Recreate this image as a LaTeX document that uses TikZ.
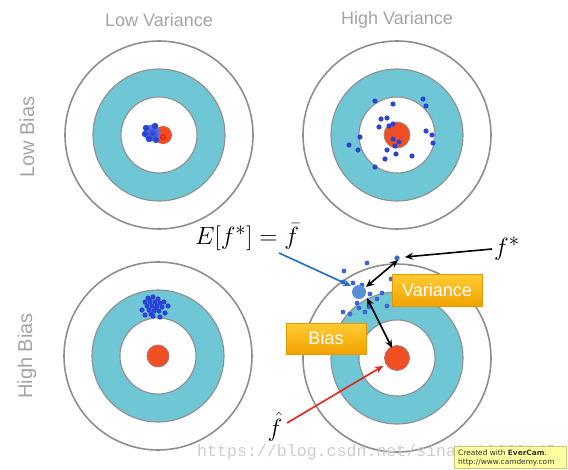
\documentclass[tikz,border=0pt]{standalone}
\usepackage{fontspec}
\setmainfont{Liberation Sans}
\newfontfamily\wmfont{Liberation Mono}
\newfontfamily\evfont{DejaVu Sans}
\usetikzlibrary{arrows.meta}
\definecolor{ringgray}{HTML}{8E8E8E}
\definecolor{cyanring}{HTML}{6FC7D5}
\definecolor{dotred}{HTML}{F04E23}
\definecolor{dotblue}{HTML}{2B44D4}
\definecolor{dotblueb}{HTML}{3F63D8}
\definecolor{meanblue}{HTML}{5A8FD8}
\definecolor{labgray}{HTML}{A4A4A4}
\definecolor{boxtop}{HTML}{FFCC33}
\definecolor{boxbot}{HTML}{F2A200}
\definecolor{boxedge}{HTML}{E39A00}
\definecolor{arrblue}{HTML}{1E6FC2}
\definecolor{arrred}{HTML}{E5231B}
\definecolor{wmgray}{HTML}{CDCDCD}
\definecolor{evbg}{HTML}{FFFFA0}
\definecolor{evedge}{HTML}{C9C77A}
\tikzset{
  outerring/.style={draw=ringgray, line width=1.6pt, fill=white},
  cyanfill/.style={fill=cyanring, draw=ringgray, line width=1.1pt},
  innerfill/.style={fill=white, draw=ringgray, line width=1.1pt},
  bullseye/.style={fill=dotred, draw=ringgray!80!dotred, line width=0.8pt},
  headlab/.style={text=labgray, font=\fontsize{18}{20}\selectfont},
  sidelab/.style={text=labgray, font=\fontsize{20}{22}\selectfont, rotate=90},
  orangebox/.style={top color=boxtop, bottom color=boxbot, draw=boxedge, line width=0.6pt,
     text=white, font=\fontsize{18}{20}\selectfont, inner sep=0pt},
  mathlab/.style={inner sep=0pt},
  blk/.style={draw=black, line width=1.6pt},
  evtext/.style={anchor=west, inner sep=0pt, font=\evfont\fontsize{7.4}{8}\selectfont, text=black!80},
}
\begin{document}
\begin{tikzpicture}[x=1pt,y=-1pt]
\useasboundingbox (0,0) rectangle (568,469);
\fill[white] (0,0) rectangle (568,469);
% centres
\coordinate (tl) at (159,135);
\coordinate (tr) at (397,135);
\coordinate (bl) at (158,356);
\coordinate (br) at (397,358);
\foreach \c in {tl,tr,bl,br}{
  \draw[outerring] (\c) circle (94pt);
  \draw[cyanfill] (\c) circle (66pt);
  \draw[innerfill] (\c) circle (38pt);
}
% top-left centre
\fill[dotred] (163,135) circle (9pt);
\shade[inner color=dotblue, outer color=dotblue!70] (152,133) circle (8.5pt);
\foreach \p in {(146,128),(149,139),(156,140),(155,126),(145,134)}
  \fill[dotblue] \p circle (3.2pt);
\draw[red, line width=0.9pt] (163,137) circle (2.3pt);
% top-right
\draw[bullseye] (tr) circle (13pt);
\foreach \p in {(375,101),(393,104),(423,99),(426,106),(381,119),(387,118),(379,127),(389,126),(393,124),
  (360,137),(349,145),(358,150),(426,131),(432,135),(433,143),(393,139),(399,142),(395,146),(387,150),
  (396,154),(412,156),(385,159),(375,167)}
  \fill[dotblue] \p circle (2.6pt);
% bottom-left
\draw[bullseye] (bl) circle (11pt);
\foreach \p in {(148,298),(153,297),(158,299),(145,302),(150,302),(155,302),(160,303),(147,306),(152,306),
  (157,306),(162,307),(168,306),(142,310),(149,310),(154,311),(159,311),(145,315),(153,316),(160,317),
  (165,313),(150,300),(156,308),(164,302),(151,314)}
  \fill[dotblue] \p circle (2.6pt);
% bottom-right
\draw[bullseye] (br) circle (12.5pt);
\foreach \p in {(367,263),(344,271),(343,282),(353,283),(362,285),(391,279),(370,294),(382,293),
  (377,299),(387,306),(343,312),(350,314),(359,308),(365,312),(357,303),(369,307)}
  \fill[dotblueb] \p circle (2.4pt);
\coordinate (fs) at (397,258);
\fill[dotblueb] (fs) circle (2.6pt);
\fill[meanblue] (359,292) circle (7pt);
\coordinate (mean) at (359,292);
% labels
\node[headlab] (lv) at (159,20) {Low Variance};
\node[headlab] (hv) at (397,20) {High Variance};
\node[sidelab] (lb) at (27,137) {Low Bias};
\node[sidelab] (hb) at (27,356) {High Bias};
% boxes
\node[orangebox, minimum width=90pt, minimum height=32pt] (var) at (437,290) {Variance};
\node[orangebox, minimum width=80pt, minimum height=31pt] (bias) at (326,338.5) {Bias};
% math labels
\node[mathlab] (ef) at (247,237) {\fontsize{28}{30}\selectfont $E[f^*]=\bar{f}$};
\node[mathlab] (fstar) at (507,249) {\fontsize{28}{30}\selectfont $f^*$};
\node[mathlab] (fhat) at (275,427) {\fontsize{28}{30}\selectfont $\hat{f}$};
% arrows
\coordinate (a1s) at (492,249);
\coordinate (a1e) at (405,257);
\draw[blk, -{Stealth[length=8pt,width=7pt]}] (a1s) -- (a1e);
\coordinate (v1) at (398,260);
\coordinate (v2) at (366,287);
\draw[blk, {Stealth[length=8pt,width=7pt]}-{Stealth[length=8pt,width=7pt]}] (v1) -- (v2);
\coordinate (b1) at (367,298);
\coordinate (b2) at (392,348);
\draw[blk, {Stealth[length=8pt,width=7pt]}-{Stealth[length=8pt,width=7pt]}] (b1) -- (b2);
\coordinate (bl1) at (279,253);
\coordinate (bl2) at (351,286);
\draw[arrblue, line width=1.6pt, -{Stealth[length=8pt,width=7pt]}] (bl1) -- (bl2);
\coordinate (r1) at (287,423);
\coordinate (r2) at (383,366);
\draw[arrred, line width=1.6pt, -{Stealth[length=8pt,width=7pt]}] (r1) -- (r2);
% watermark
\node[anchor=base west, inner sep=0pt, text=wmgray, font=\wmfont\fontsize{16.6}{18}\selectfont] (wm) at (197,456) {https://blog.csdn.net/sinat\_19628145};
% evercam box
\node[fill=evbg, draw=evedge, line width=0.6pt, minimum width=112pt, minimum height=22pt, inner sep=0pt] (ev) at (510,457.5) {};
\node[evtext] (ev1) at (458,452.5) {Created with \textbf{EverCam}.};
\node[evtext] (ev2) at (458,462) {http://www.camdemy.com};
\end{tikzpicture}
\end{document}
